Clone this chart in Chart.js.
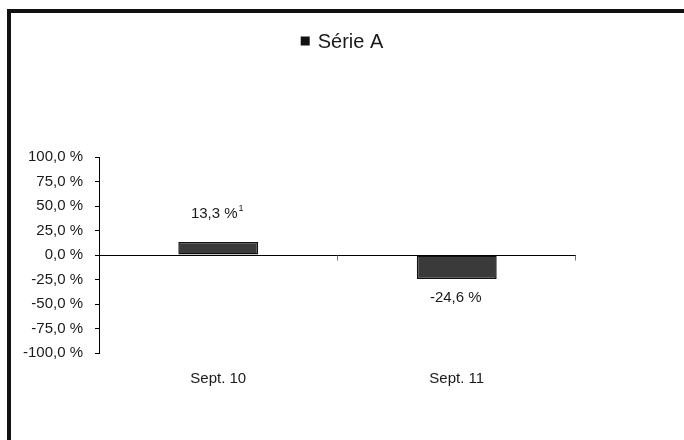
<!DOCTYPE html>
<html>
<head>
<meta charset="utf-8">
<script src="https://cdn.jsdelivr.net/npm/chart.js@4/dist/chart.umd.min.js"></script>
<style>
  html, body { margin: 0; padding: 0; background: #fff; overflow: hidden; }
  canvas { display: block; }
</style>
</head>
<body>
<canvas id="c" width="684" height="440"></canvas>
<script>
// Chart data
const categories = ['Sept. 10', 'Sept. 11'];
const seriesName = 'Série A';
const seriesValues = [13.3, -24.6];
const footnotes = ['1', ''];
const yTickValues = [-100, -75, -50, -25, 0, 25, 50, 75, 100];

const FONT = '"Liberation Sans", Arial, Helvetica, sans-serif';
const TEXT = '#1a1a1a';
const BAR_FILL = '#3a3a3a';

function pct(v) {
  return v.toFixed(1).replace('.', ',') + ' %';
}

// White page with the heavy black frame
const framePlugin = {
  id: 'frame',
  beforeDraw(chart) {
    const ctx = chart.ctx;
    ctx.save();
    ctx.fillStyle = '#fff';
    ctx.fillRect(0, 0, chart.width, chart.height);
    ctx.fillStyle = '#111';
    ctx.fillRect(7, 9, 4, chart.height);
    ctx.fillRect(7, 9, chart.width, 4);
    ctx.restore();
  }
};

// Small category tick marks hanging below the zero line
const zeroTicksPlugin = {
  id: 'zeroTicks',
  afterDatasetsDraw(chart) {
    const x = chart.scales.x, y = chart.scales.y;
    const y0 = Math.round(y.getPixelForValue(0)) + 0.5;
    const ctx = chart.ctx;
    ctx.save();
    ctx.strokeStyle = '#777';
    ctx.lineWidth = 1;
    const n = categories.length;
    for (let i = 1; i <= n; i++) {
      const xb = i < n
        ? (x.getPixelForValue(i - 1) + x.getPixelForValue(i)) / 2
        : chart.chartArea.right;
      const px = Math.round(xb) - 0.5;
      ctx.beginPath();
      ctx.moveTo(px, y0);
      ctx.lineTo(px, y0 + 5);
      ctx.stroke();
    }
    ctx.restore();
  }
};

// Value labels above positive bars and below negative ones
const valueLabelPlugin = {
  id: 'valueLabels',
  afterDatasetsDraw(chart) {
    const ctx = chart.ctx;
    const meta = chart.getDatasetMeta(0);
    ctx.save();
    ctx.fillStyle = TEXT;
    ctx.textBaseline = 'middle';
    ctx.textAlign = 'left';
    meta.data.forEach((bar, i) => {
      const v = seriesValues[i];
      const main = pct(v);
      const note = footnotes[i];
      ctx.font = '15px ' + FONT;
      const wMain = ctx.measureText(main).width;
      ctx.font = '9px ' + FONT;
      const wNote = note ? ctx.measureText(note).width + 1 : 0;
      const total = wMain + wNote;
      const cx = bar.x;
      const cy = v >= 0 ? bar.y - 28 : bar.y + 19;
      const x0 = cx - total / 2 - 1;
      ctx.font = '15px ' + FONT;
      ctx.fillText(main, x0, cy);
      if (note) {
        ctx.font = '9px ' + FONT;
        ctx.fillText(note, x0 + wMain + 1, cy - 5);
      }
    });
    ctx.restore();
  }
};

// Legend entry centred at the top
const legendPlugin = {
  id: 'topLegend',
  afterDraw(chart) {
    const ctx = chart.ctx;
    const ds = chart.data.datasets[0];
    ctx.save();
    ctx.font = '20px ' + FONT;
    const tw = ctx.measureText(ds.label).width;
    const box = 9, gap = 8;
    const total = box + gap + tw;
    const x0 = chart.width / 2 - total / 2;
    const cy = 41;
    ctx.fillStyle = '#111';
    ctx.fillRect(x0, cy - box / 2, box, box);
    ctx.fillStyle = TEXT;
    ctx.textBaseline = 'middle';
    ctx.fillText(ds.label, x0 + box + gap, cy + 1);
    ctx.restore();
  }
};

new Chart(document.getElementById('c'), {
  type: 'bar',
  data: {
    labels: categories,
    datasets: [{
      label: seriesName,
      data: seriesValues,
      backgroundColor: BAR_FILL,
      borderColor: '#111',
      borderWidth: 1.5,
      borderSkipped: false,
      categoryPercentage: 1,
      barPercentage: 0.335
    }]
  },
  options: {
    responsive: false,
    animation: false,
    devicePixelRatio: 1,
    layout: { padding: { top: 157, right: 108, bottom: 0, left: 0 } },
    plugins: {
      legend: { display: false },
      tooltip: { enabled: false }
    },
    scales: {
      x: {
        offset: true,
        grid: { display: false },
        border: { display: false },
        ticks: {
          color: TEXT,
          padding: 9,
          maxRotation: 0,
          font: { family: FONT, size: 15 }
        },
        afterFit(scale) { scale.height = 87; }
      },
      y: {
        min: -100,
        max: 100,
        afterBuildTicks(scale) {
          scale.ticks = yTickValues.map(v => ({ value: v }));
        },
        grid: {
          drawOnChartArea: true,
          color: c => (c.tick && c.tick.value === 0 ? '#000' : 'rgba(0,0,0,0)'),
          tickColor: '#000',
          tickLength: 4,
          lineWidth: 1
        },
        border: { display: true, color: '#000', width: 1 },
        ticks: {
          color: TEXT,
          padding: 12,
          font: { family: FONT, size: 15 },
          callback: v => pct(v)
        },
        afterFit(scale) { scale.width = 99; }
      }
    }
  },
  plugins: [framePlugin, zeroTicksPlugin, valueLabelPlugin, legendPlugin]
});
</script>
</body>
</html>
